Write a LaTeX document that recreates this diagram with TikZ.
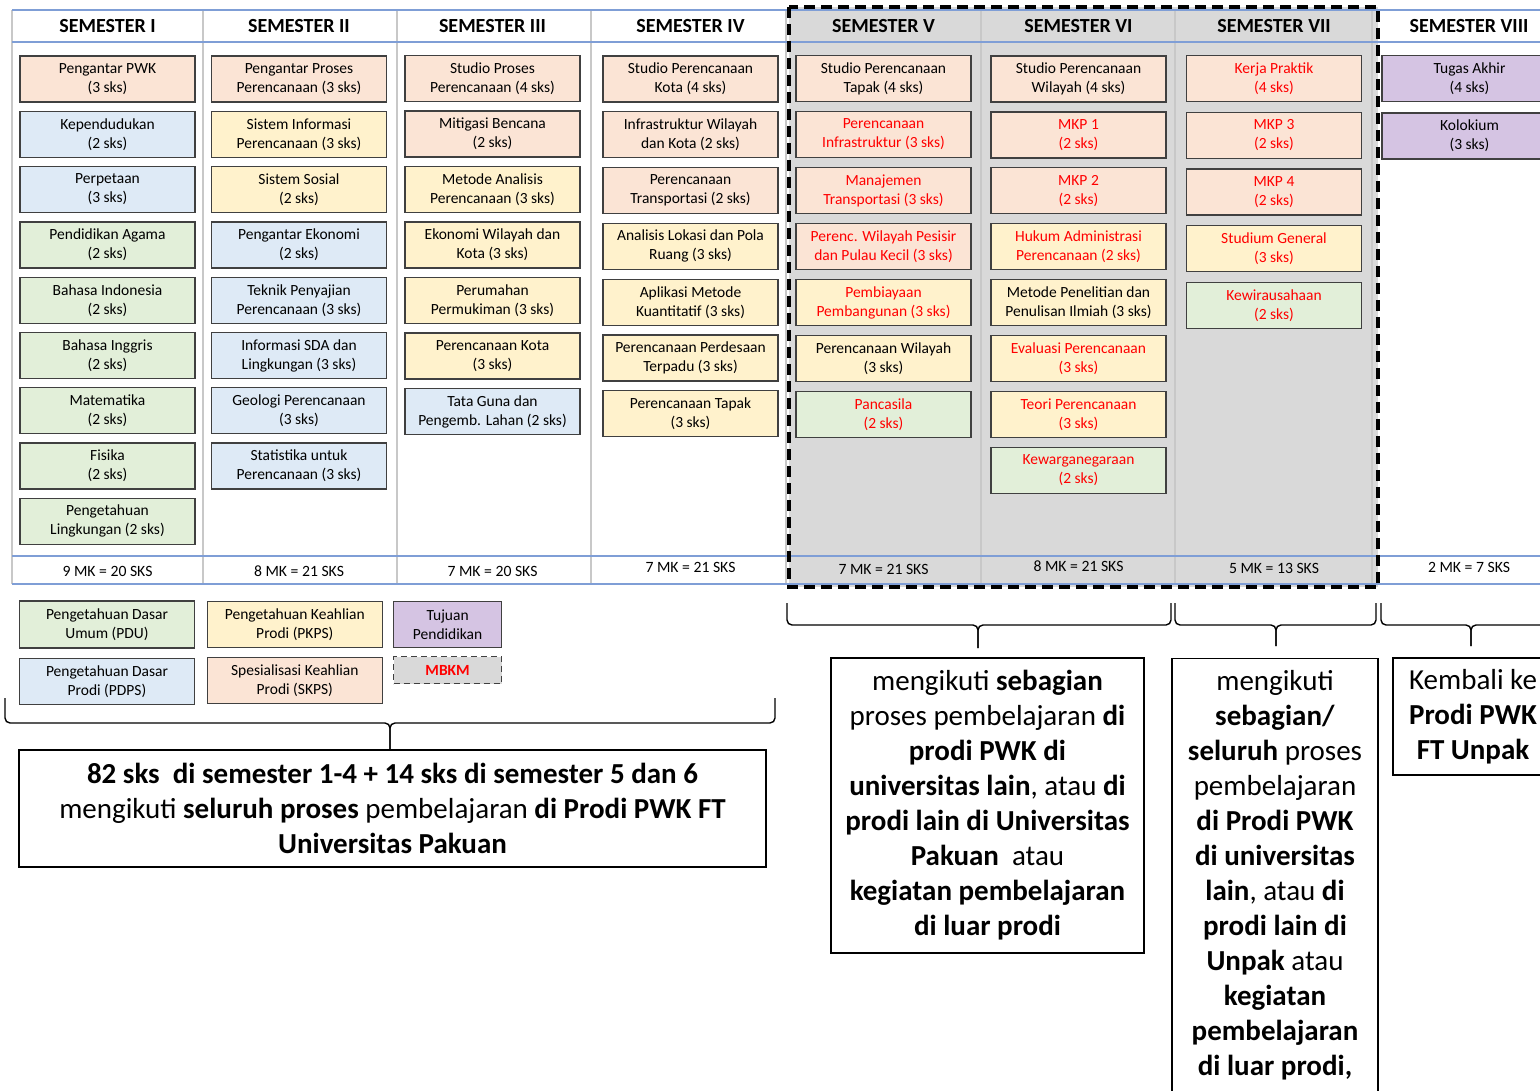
\documentclass[tikz,border=0pt]{standalone}
\usepackage{fontspec}
\setmainfont{Carlito}
\usetikzlibrary{positioning}

\definecolor{cskps}{HTML}{FBE4D5}
\definecolor{cpkps}{HTML}{FFF2CC}
\definecolor{cpdps}{HTML}{DEEAF6}
\definecolor{cpdu}{HTML}{E2EFD9}
\definecolor{ctp}{HTML}{D5C4E3}
\definecolor{cmbkm}{HTML}{D9D9D9}
\definecolor{cline}{HTML}{404040}
\definecolor{cgrid}{HTML}{C8C8C8}
\definecolor{cblue}{HTML}{7F9ED6}
\definecolor{cred}{HTML}{FF0000}

\tikzset{
  mk/.style={draw=cline, line width=1.3pt, minimum width=175pt, minimum height=46pt,
    inner sep=1pt, align=center, font=\fontsize{15.5}{19}\selectfont},
  skps/.style={mk, fill=cskps},
  pkps/.style={mk, fill=cpkps},
  pdps/.style={mk, fill=cpdps},
  pdu/.style={mk, fill=cpdu},
  tp/.style={mk, fill=ctp},
  head/.style={font=\fontsize{20}{24}\selectfont\bfseries},
  total/.style={font=\fontsize{15.7}{18}\selectfont},
  note/.style={draw, line width=1.4pt, align=center, font=\fontsize{29}{35}\selectfont},
  brc/.style={line width=1.4pt, rounded corners=5pt},
}

\begin{document}
\begin{tikzpicture}[x=1pt, y=-1pt]
\useasboundingbox (0,0) rectangle (1540,1091);
\clip (0,0) rectangle (1540,1091);

% MBKM semesters
\fill[cmbkm] (789,7) rectangle (1378,587);

% table
\foreach \x in {12,203,397,591,786,981,1175,1372}
  \draw[cgrid, line width=1.4pt] (\x,10) -- (\x,584);
\foreach \y in {10,42,556,584}
  \draw[cblue, line width=1.1pt] (12,\y) -- (1540,\y);

\foreach \x/\s [count=\i] in {107.5/I,299/II,492.5/III,690.5/IV,883.5/V,1078.5/VI,1274/VII,1469/VIII}
  \node[head] (h\i) at (\x,26.5) {SEMESTER \s};

\foreach \x/\y/\s [count=\i] in {107.5/571/9 MK = 20 SKS,299/571/8 MK = 21 SKS,492.5/571/7 MK = 20 SKS,
    690.5/567.5/7 MK = 21 SKS,883.5/569/7 MK = 21 SKS,1078.5/566/8 MK = 21 SKS,
    1274/568.5/5 MK = 13 SKS,1469/567.5/2 MK = 7 SKS}
  \node[total] (f\i) at (\x,\y) {\s};

% semester I
\foreach \t/\f/\c [count=\i] in {
    {Pengantar PWK\\(3 sks)}/skps/black,
    {Kependudukan\\(2 sks)}/pdps/black,
    {Perpetaan\\(3 sks)}/pdps/black,
    {Pendidikan Agama\\(2 sks)}/pdu/black,
    {Bahasa Indonesia\\(2 sks)}/pdu/black,
    {Bahasa Inggris\\(2 sks)}/pdu/black,
    {Matematika\\(2 sks)}/pdu/black,
    {Fisika\\(2 sks)}/pdu/black,
    {Pengetahuan\\Lingkungan (2 sks)}/pdu/black}
  \node[\f, text=\c] (s1-\i) at (107.5,{79+55.3*(\i-1)}) {\t};

% semester II
\foreach \t/\f/\c [count=\i] in {
    {Pengantar Proses\\Perencanaan (3 sks)}/skps/black,
    {Sistem Informasi\\Perencanaan (3 sks)}/pkps/black,
    {Sistem Sosial\\(2 sks)}/pkps/black,
    {Pengantar Ekonomi\\(2 sks)}/pdps/black,
    {Teknik Penyajian\\Perencanaan (3 sks)}/pdps/black,
    {Informasi SDA dan\\Lingkungan (3 sks)}/pdps/black,
    {Geologi Perencanaan\\(3 sks)}/pdps/black,
    {Statistika untuk\\Perencanaan (3 sks)}/pdps/black}
  \node[\f, text=\c] (s2-\i) at (299,{79+55.3*(\i-1)}) {\t};

% semester III
\foreach \t/\f/\c [count=\i] in {
    {Studio Proses\\Perencanaan (4 sks)}/skps/black,
    {Mitigasi Bencana\\(2 sks)}/skps/black,
    {Metode Analisis\\Perencanaan (3 sks)}/pkps/black,
    {Ekonomi Wilayah dan\\Kota (3 sks)}/pkps/black,
    {Perumahan\\Permukiman (3 sks)}/pkps/black,
    {Perencanaan Kota\\(3 sks)}/pkps/black,
    {Tata Guna dan\\Pengemb. Lahan (2 sks)}/pdps/black}
  \node[\f, text=\c] (s3-\i) at (492.5,{78.5+55.5*(\i-1)}) {\t};

% semester IV
\foreach \t/\f/\c [count=\i] in {
    {Studio Perencanaan\\Kota (4 sks)}/skps/black,
    {Infrastruktur Wilayah\\dan Kota (2 sks)}/skps/black,
    {Perencanaan\\Transportasi (2 sks)}/skps/black,
    {Analisis Lokasi dan Pola\\Ruang (3 sks)}/pkps/black,
    {Aplikasi Metode\\Kuantitatif (3 sks)}/pkps/black,
    {Perencanaan Perdesaan\\Terpadu (3 sks)}/pkps/black,
    {Perencanaan Tapak\\(3 sks)}/pkps/black}
  \node[\f, text=\c] (s4-\i) at (690.5,{79+55.8*(\i-1)}) {\t};

% semester V
\foreach \t/\f/\c [count=\i] in {
    {Studio Perencanaan\\Tapak (4 sks)}/skps/black,
    {Perencanaan\\Infrastruktur (3 sks)}/skps/cred,
    {Manajemen\\Transportasi (3 sks)}/skps/cred,
    {Perenc. Wilayah Pesisir\\dan Pulau Kecil (3 sks)}/skps/cred,
    {Pembiayaan\\Pembangunan (3 sks)}/pkps/cred,
    {Perencanaan Wilayah\\(3 sks)}/pkps/black,
    {Pancasila\\(2 sks)}/pdu/cred}
  \node[\f, text=\c] (s5-\i) at (883.5,{78.5+56*(\i-1)}) {\t};

% semester VI
\foreach \t/\f/\c [count=\i] in {
    {Studio Perencanaan\\Wilayah (4 sks)}/skps/black,
    {MKP 1\\(2 sks)}/skps/cred,
    {MKP 2\\(2 sks)}/skps/cred,
    {Hukum Administrasi\\Perencanaan (2 sks)}/pkps/cred,
    {Metode Penelitian dan\\Penulisan Ilmiah (3 sks)}/pkps/black,
    {Evaluasi Perencanaan\\(3 sks)}/pkps/cred,
    {Teori Perencanaan\\(3 sks)}/pkps/cred,
    {Kewarganegaraan\\(2 sks)}/pdu/cred}
  \node[\f, text=\c] (s6-\i) at (1078.5,{79+55.9*(\i-1)}) {\t};

% semester VII
\foreach \t/\f/\c [count=\i] in {
    {Kerja Praktik\\(4 sks)}/skps/cred,
    {MKP 3\\(2 sks)}/skps/cred,
    {MKP 4\\(2 sks)}/skps/cred,
    {Studium General\\(3 sks)}/pkps/cred,
    {Kewirausahaan\\(2 sks)}/pdu/cred}
  \node[\f, text=\c] (s7-\i) at (1274,{78.5+56.7*(\i-1)}) {\t};

% semester VIII
\foreach \t/\f/\c [count=\i] in {
    {Tugas Akhir\\(4 sks)}/tp/black,
    {Kolokium\\(3 sks)}/tp/black}
  \node[\f, text=\c] (s8-\i) at (1469.5,{78.5+57.5*(\i-1)}) {\t};

\draw[line width=3.5pt, dash pattern=on 11pt off 6pt] (789,7) rectangle (1378,587);

% legend
\node[pdu, minimum height=47pt] (lg-pdu) at (107,624.5) {Pengetahuan Dasar\\Umum (PDU)};
\node[pdps, below=9pt of lg-pdu] (lg-pdps) {Pengetahuan Dasar\\Prodi (PDPS)};
\node[pkps, right=11.5pt of lg-pdu] (lg-pkps) {Pengetahuan Keahlian\\Prodi (PKPS)};
\node[skps, below=9pt of lg-pkps] (lg-skps) {Spesialisasi Keahlian\\Prodi (SKPS)};
\node[tp, minimum width=108pt, right=10pt of lg-pkps] (lg-tp) {Tujuan\\Pendidikan};
\node[mk, fill=cmbkm, dashed, dash pattern=on 6pt off 4pt, minimum width=108pt, minimum height=27pt,
  text=cred, font=\fontsize{15.5}{19}\selectfont\bfseries, below=8pt of lg-tp] (lg-mbkm) {MBKM};

% notes
\node[note, minimum width=747pt, minimum height=117pt] (n1) at (392.5,808.5)
  {\textbf{82 sks\ \ di semester 1-4 + 14 sks di semester 5 dan 6}\\
   mengikuti \textbf{seluruh proses} pembelajaran \textbf{di Prodi PWK FT}\\
   \textbf{Universitas Pakuan}};
\node[note, minimum width=313pt, minimum height=295pt] (n2) at (987.5,805.5)
  {mengikuti \textbf{sebagian}\\
   proses pembelajaran \textbf{di}\\
   \textbf{prodi PWK di}\\
   \textbf{universitas lain}, atau \textbf{di}\\
   \textbf{prodi lain di Universitas}\\
   \textbf{Pakuan}\ \ atau\\
   \textbf{kegiatan pembelajaran}\\
   \textbf{di luar prodi}};
\node[note, anchor=north, minimum width=206pt, minimum height=470pt] (n3) at (1275,658) {};
\node[note, draw=none, anchor=north, inner sep=0pt] (n3t) at (1275,670)
  {mengikuti\\
   \textbf{sebagian/}\\
   \textbf{seluruh} proses\\
   pembelajaran\\
   \textbf{di Prodi PWK}\\
   \textbf{di universitas}\\
   \textbf{lain}, atau \textbf{di}\\
   \textbf{prodi lain di}\\
   \textbf{Unpak} atau\\
   \textbf{kegiatan}\\
   \textbf{pembelajaran}\\
   \textbf{di luar prodi,}};
\node[note, minimum width=160pt, minimum height=117pt] (n4) at (1473,716.5)
  {Kembali ke\\\textbf{Prodi PWK}\\\textbf{FT Unpak}};

% braces
\coordinate (b1l) at (5,698);    \coordinate (b1r) at (775,698);  \coordinate (b1m) at (390,723);
\coordinate (b2l) at (787,603);  \coordinate (b2r) at (1171,603); \coordinate (b2m) at (978,625);
\coordinate (b3l) at (1175,603); \coordinate (b3r) at (1376,603); \coordinate (b3m) at (1276,625);
\coordinate (b4l) at (1381,603); \coordinate (b4r) at (1562,603); \coordinate (b4m) at (1471,625);
\coordinate (b2t) at (978,648);  \coordinate (b3t) at (1276,646); \coordinate (b4t) at (1471,646);
\draw[brc] (b1l) |- (b1m) -- (n1.north -| b1m);
\draw[brc] (b1r) |- (b1m) -- (n1.north -| b1m);
\foreach \n in {2,3,4} {
  \draw[brc] (b\n l) |- (b\n m) -- (b\n t);
  \draw[brc] (b\n r) |- (b\n m) -- (b\n t);
}
\end{tikzpicture}
\end{document}
